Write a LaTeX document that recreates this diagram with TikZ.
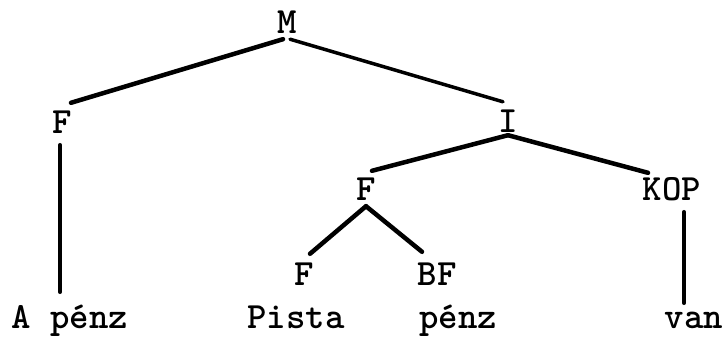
\documentclass[tikz,border=0pt]{standalone}
\usepackage{tikz}
\begin{document}
\begin{tikzpicture}[x=1pt, y=1pt,
		cat/.style={font=\fontsize{37}{40}\selectfont\ttfamily\bfseries, inner sep=5pt, text height=22pt, text depth=0pt},
		word/.style={font=\fontsize{37}{40}\selectfont\ttfamily\bfseries, inner sep=0pt, anchor=base, text height=22pt, text depth=7pt},
		branch/.style={line width=4.5pt, line cap=round}]
			%%%%% START %%%%%
			\useasboundingbox (0, 0) rectangle (723, 337);
			
			\node[cat] (m) at (287, 314) {M};
			\node[cat] (f1) at (62, 214.5) {F};
			\node[cat] (i) at (508, 215) {I};
			\node[cat] (f2) at (366, 147) {F};
			\node[cat] (kop) at (672, 147) {KOP};
			\node[cat] (f3) at (304, 62) {F};
			\node[cat] (bf) at (437, 62) {BF};
			
			\node[word] (wa) at (70, 8) {A pénz};
			\node[word] (wp) at (296, 8) {Pista};
			\node[word] (wz) at (458, 8) {pénz};
			\node[word] (wv) at (694, 8) {van};
			
			\draw[branch] ([xshift=-4pt]m.south) -- ([xshift=9pt, yshift=3.5pt]f1.north);
			\draw[branch, line width=3.5pt] ([xshift=3pt]m.south) -- ([xshift=-5pt, yshift=4pt]i.north);
			
			\draw[branch] ([yshift=3pt]i.south) -- ([xshift=6pt, yshift=3pt]f2.north);
			\draw[branch] ([yshift=3pt]i.south) -- ([xshift=-24pt, yshift=1pt]kop.north);
			
			\draw[branch] (f2.south) -- ([xshift=6pt, yshift=5pt]f3.north);
			\draw[branch] (f2.south) -- ([xshift=-15pt, yshift=7pt]bf.north);
			
			\draw[branch] ([xshift=-2pt, yshift=-6.5pt]f1.south) -- ([xshift=-10pt, yshift=15pt]wa.north);
			\draw[branch] ([xshift=12pt, yshift=-6pt]kop.south) -- ([xshift=-10pt, yshift=4pt]wv.north);
			
			%%%%% END %%%%%
		\end{tikzpicture}
\end{document}
